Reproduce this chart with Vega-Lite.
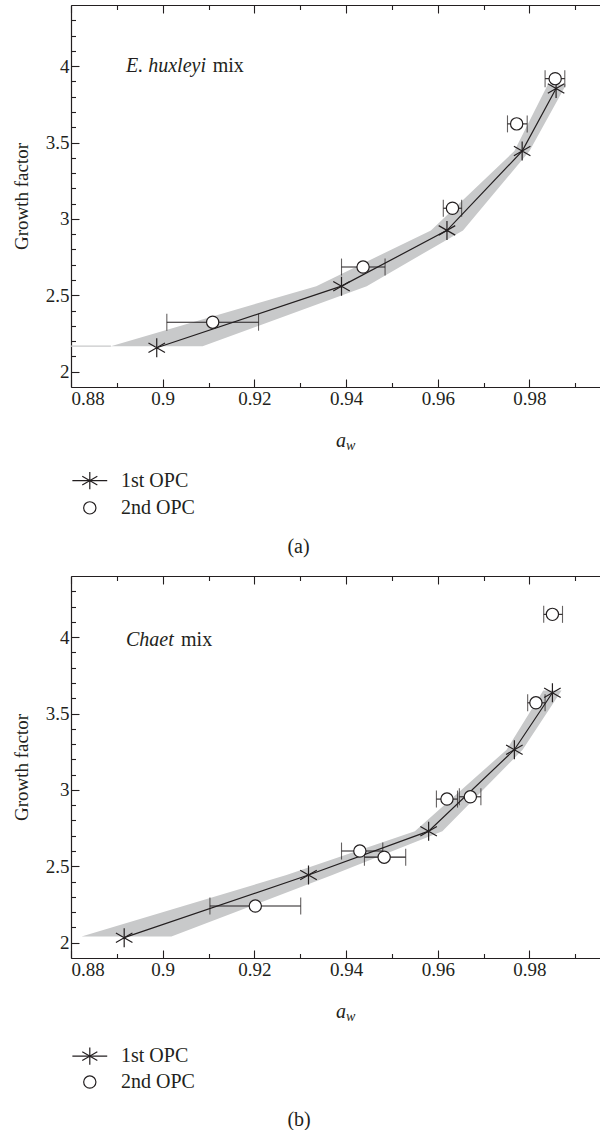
{
  "$schema": "https://vega.github.io/schema/vega-lite/v6.json",
  "padding": {"left": 12, "top": 4, "right": 0, "bottom": 0},
  "spacing": 189,
  "bounds": "flush",
  "background": "white",
  "config": {
    "font": "Liberation Serif",
    "view": {"stroke": "transparent", "strokeWidth": 0},
    "style": {"cell": {"stroke": "transparent", "strokeWidth": 0}},
    "mark": {"font": "Liberation Serif"},
    "axis": {
      "grid": false,
      "domainColor": "#231f20",
      "tickColor": "#231f20",
      "labelColor": "#231f20",
      "titleColor": "#231f20",
      "labelFont": "Liberation Serif",
      "titleFont": "Liberation Serif",
      "labelFontSize": 19,
      "titleFontSize": 19,
      "titleFontWeight": "normal",
      "labelOverlap": false,
      "domainWidth": 1.2,
      "tickWidth": 1.1
    },
    "text": {"font": "Liberation Serif", "fontSize": 20, "color": "#231f20"}
  },
  "datasets": {
    "a1": [
      {"aw": 0.8987, "gf": 2.157},
      {"aw": 0.939, "gf": 2.56},
      {"aw": 0.962, "gf": 2.925},
      {"aw": 0.9784, "gf": 3.444},
      {"aw": 0.9858, "gf": 3.853}
    ],
    "a2": [
      {"aw": 0.9109, "gf": 2.324, "lo": 0.9009, "hi": 0.9209},
      {"aw": 0.9437, "gf": 2.685, "lo": 0.939, "hi": 0.9485},
      {"aw": 0.9632, "gf": 3.07, "lo": 0.9612, "hi": 0.9652},
      {"aw": 0.9772, "gf": 3.622, "lo": 0.9752, "hi": 0.9795},
      {"aw": 0.9856, "gf": 3.918, "lo": 0.9834, "hi": 0.9877}
    ],
    "aband": [
      {"gf": 2.167, "lo": 0.8887, "hi": 0.9087},
      {"gf": 2.56, "lo": 0.9335, "hi": 0.9445},
      {"gf": 2.925, "lo": 0.9585, "hi": 0.9655},
      {"gf": 3.444, "lo": 0.9767, "hi": 0.98},
      {"gf": 3.88, "lo": 0.984, "hi": 0.988}
    ],
    "astub": [{"aw": 0.88, "aw2": 0.8887, "gf": 2.167}],
    "a_it": [{"t": "E. huxleyi", "aw": 0.892, "gf": 4.0}],
    "a_txt": [
      {"t": "mix", "aw": 0.9109, "gf": 4.0},
      {"t": "1st OPC", "aw": 0.8909, "gf": 1.287},
      {"t": "2nd OPC", "aw": 0.8909, "gf": 1.109},
      {"t": "(a)", "aw": 0.9272, "gf": 0.856}
    ],
    "a_legline": [{"aw": 0.8803, "aw2": 0.8879, "gf": 1.287}],
    "a_legstar": [{"aw": 0.8841, "gf": 1.287}],
    "a_legcirc": [{"aw": 0.8841, "gf": 1.109}],
    "axa": [{"aw": 0.94, "gf": 1.51}],
    "axw": [{"aw": 0.94, "gf": 1.49}],
    "b1": [
      {"aw": 0.8916, "gf": 2.033},
      {"aw": 0.9318, "gf": 2.443},
      {"aw": 0.958, "gf": 2.73},
      {"aw": 0.9767, "gf": 3.263},
      {"aw": 0.985, "gf": 3.636}
    ],
    "b2": [
      {"aw": 0.9202, "gf": 2.24, "lo": 0.9103, "hi": 0.9301},
      {"aw": 0.943, "gf": 2.6, "lo": 0.939, "hi": 0.948},
      {"aw": 0.9483, "gf": 2.56, "lo": 0.944, "hi": 0.953},
      {"aw": 0.962, "gf": 2.94, "lo": 0.9597, "hi": 0.9643},
      {"aw": 0.9671, "gf": 2.955, "lo": 0.9647, "hi": 0.9694},
      {"aw": 0.9814, "gf": 3.57, "lo": 0.9796, "hi": 0.9834},
      {"aw": 0.985, "gf": 4.149, "lo": 0.9831, "hi": 0.9872}
    ],
    "bband": [
      {"gf": 2.04, "lo": 0.8823, "hi": 0.9019},
      {"gf": 2.443, "lo": 0.927, "hi": 0.937},
      {"gf": 2.73, "lo": 0.955, "hi": 0.961},
      {"gf": 3.263, "lo": 0.975, "hi": 0.9785},
      {"gf": 3.65, "lo": 0.983, "hi": 0.987}
    ],
    "b_it": [{"t": "Chaet", "aw": 0.892, "gf": 3.98}],
    "b_txt": [
      {"t": "mix", "aw": 0.904, "gf": 3.98},
      {"t": "1st OPC", "aw": 0.8909, "gf": 1.258},
      {"t": "2nd OPC", "aw": 0.8909, "gf": 1.088},
      {"t": "(b)", "aw": 0.9272, "gf": 0.84}
    ],
    "b_legline": [{"aw": 0.8803, "aw2": 0.8879, "gf": 1.258}],
    "b_legstar": [{"aw": 0.8841, "gf": 1.258}],
    "b_legcirc": [{"aw": 0.8841, "gf": 1.088}]
  },
  "vconcat": [
    {
      "width": 549,
      "height": 382,
      "resolve": {"axis": {"x": "independent", "y": "independent"}},
      "layer": [
        {
          "data": {"name": "aband"},
          "mark": {"type": "area", "orient": "horizontal", "color": "#c8c9ca"},
          "encoding": {
            "y": {"field": "gf", "type": "quantitative", "scale": {"domain": [1.9, 4.4], "nice": false, "zero": false},
              "axis": {"orient": "left", "values": [2, 2.1, 2.2, 2.3, 2.4, 2.5, 2.6, 2.7, 2.8, 2.9, 3, 3.1, 3.2, 3.3, 3.4, 3.5, 3.6, 3.7, 3.8, 3.9, 4, 4.1, 4.2, 4.3], "format": "~g",
                "labelExpr": "round(datum.value*10) % 5 == 0 ? datum.label : ''",
                "tickSize": {"condition": {"test": "round(datum.value*10) % 5 == 0", "value": -8}, "value": -4.5},
                "labelPadding": 10, "title": "Growth factor", "titlePadding": 14}},
            "x": {"field": "lo", "type": "quantitative", "scale": {"domain": [0.88, 0.99974], "nice": false, "zero": false},
              "axis": {"orient": "bottom", "values": [0.88, 0.89, 0.9, 0.91, 0.92, 0.93, 0.94, 0.95, 0.96, 0.97, 0.98, 0.99], "format": "~g",
                "labelExpr": "round(datum.value*100) % 2 == 0 ? datum.label : ''",
                "tickSize": {"condition": {"test": "round(datum.value*100) % 2 == 0", "value": -8}, "value": -4.5},
                "labelPadding": 10, "title": null}},
            "x2": {"field": "hi"}
          }
        },
        {
          "data": {"name": "astub"},
          "mark": {"type": "rule", "color": "#c8c9ca", "strokeWidth": 1.2},
          "encoding": {
            "x": {"field": "aw", "type": "quantitative", "axis": null},
            "x2": {"field": "aw2"},
            "y": {"field": "gf", "type": "quantitative", "axis": null}
          }
        },
        {
          "data": {"name": "a1"},
          "mark": {"type": "line", "color": "#231f20", "strokeWidth": 1.2},
          "encoding": {
            "x": {"field": "aw", "type": "quantitative",
              "axis": {"orient": "top", "values": [0.88, 0.89, 0.9, 0.91, 0.92, 0.93, 0.94, 0.95, 0.96, 0.97, 0.98, 0.99], "labels": false,
                "tickSize": {"condition": {"test": "round(datum.value*100) % 2 == 0", "value": -8}, "value": -4.5}, "title": null}},
            "y": {"field": "gf", "type": "quantitative", "axis": null}
          }
        },
        {
          "data": {"name": "a1"},
          "mark": {"type": "point", "shape": "M0,-1L0,1M-0.87,-0.5L0.87,0.5M-0.87,0.5L0.87,-0.5", "filled": false, "size": 361, "stroke": "#231f20", "strokeWidth": 1.2, "opacity": 1},
          "encoding": {
            "x": {"field": "aw", "type": "quantitative", "axis": null},
            "y": {"field": "gf", "type": "quantitative", "axis": null}
          }
        },
        {
          "data": {"name": "a2"},
          "mark": {"type": "rule", "color": "#231f20", "strokeWidth": 1.1},
          "encoding": {
            "x": {"field": "lo", "type": "quantitative", "axis": null},
            "x2": {"field": "hi"},
            "y": {"field": "gf", "type": "quantitative", "axis": null}
          }
        },
        {
          "data": {"name": "a2"},
          "mark": {"type": "tick", "orient": "vertical", "color": "#231f20", "size": 17, "thickness": 1.1},
          "encoding": {
            "x": {"field": "lo", "type": "quantitative", "axis": null},
            "y": {"field": "gf", "type": "quantitative", "axis": null}
          }
        },
        {
          "data": {"name": "a2"},
          "mark": {"type": "tick", "orient": "vertical", "color": "#231f20", "size": 17, "thickness": 1.1},
          "encoding": {
            "x": {"field": "hi", "type": "quantitative", "axis": null},
            "y": {"field": "gf", "type": "quantitative", "axis": null}
          }
        },
        {
          "data": {"name": "a2"},
          "mark": {"type": "point", "shape": "circle", "filled": true, "fill": "white", "stroke": "#231f20", "strokeWidth": 1.2, "size": 150, "opacity": 1},
          "encoding": {
            "x": {"field": "aw", "type": "quantitative", "axis": null},
            "y": {"field": "gf", "type": "quantitative", "axis": null}
          }
        },
        {
          "data": {"name": "a_it"},
          "mark": {"type": "text", "fontStyle": "italic", "align": "left", "baseline": "middle", "fontSize": 20},
          "encoding": {"x": {"field": "aw", "type": "quantitative", "axis": null}, "y": {"field": "gf", "type": "quantitative", "axis": null}, "text": {"field": "t"}}
        },
        {
          "data": {"name": "a_txt"},
          "mark": {"type": "text", "align": "left", "baseline": "middle", "fontSize": 20},
          "encoding": {"x": {"field": "aw", "type": "quantitative", "axis": null}, "y": {"field": "gf", "type": "quantitative", "axis": null}, "text": {"field": "t"}}
        },
        {
          "data": {"name": "axa"},
          "mark": {"type": "text", "text": "a", "fontStyle": "italic", "align": "right", "baseline": "alphabetic", "fontSize": 20},
          "encoding": {"x": {"field": "aw", "type": "quantitative", "axis": null}, "y": {"field": "gf", "type": "quantitative", "axis": null}}
        },
        {
          "data": {"name": "axw"},
          "mark": {"type": "text", "text": "w", "fontStyle": "italic", "align": "left", "baseline": "alphabetic", "fontSize": 14},
          "encoding": {"x": {"field": "aw", "type": "quantitative", "axis": null}, "y": {"field": "gf", "type": "quantitative", "axis": null}}
        },
        {
          "data": {"name": "a_legline"},
          "mark": {"type": "rule", "color": "#231f20", "strokeWidth": 1.2},
          "encoding": {"x": {"field": "aw", "type": "quantitative", "axis": null}, "x2": {"field": "aw2"}, "y": {"field": "gf", "type": "quantitative", "axis": null}}
        },
        {
          "data": {"name": "a_legstar"},
          "mark": {"type": "point", "shape": "M0,-1L0,1M-0.87,-0.5L0.87,0.5M-0.87,0.5L0.87,-0.5", "filled": false, "size": 300, "stroke": "#231f20", "strokeWidth": 1.2, "opacity": 1},
          "encoding": {"x": {"field": "aw", "type": "quantitative", "axis": null}, "y": {"field": "gf", "type": "quantitative", "axis": null}}
        },
        {
          "data": {"name": "a_legcirc"},
          "mark": {"type": "point", "shape": "circle", "filled": true, "fill": "white", "stroke": "#231f20", "strokeWidth": 1.2, "size": 150, "opacity": 1},
          "encoding": {"x": {"field": "aw", "type": "quantitative", "axis": null}, "y": {"field": "gf", "type": "quantitative", "axis": null}}
        }
      ]
    },
    {
      "width": 549,
      "height": 382,
      "resolve": {"axis": {"x": "independent", "y": "independent"}},
      "layer": [
        {
          "data": {"name": "bband"},
          "mark": {"type": "area", "orient": "horizontal", "color": "#c8c9ca"},
          "encoding": {
            "y": {"field": "gf", "type": "quantitative", "scale": {"domain": [1.9, 4.4], "nice": false, "zero": false},
              "axis": {"orient": "left", "values": [2, 2.1, 2.2, 2.3, 2.4, 2.5, 2.6, 2.7, 2.8, 2.9, 3, 3.1, 3.2, 3.3, 3.4, 3.5, 3.6, 3.7, 3.8, 3.9, 4, 4.1, 4.2, 4.3], "format": "~g",
                "labelExpr": "round(datum.value*10) % 5 == 0 ? datum.label : ''",
                "tickSize": {"condition": {"test": "round(datum.value*10) % 5 == 0", "value": -8}, "value": -4.5},
                "labelPadding": 10, "title": "Growth factor", "titlePadding": 14}},
            "x": {"field": "lo", "type": "quantitative", "scale": {"domain": [0.88, 0.99974], "nice": false, "zero": false},
              "axis": {"orient": "bottom", "values": [0.88, 0.89, 0.9, 0.91, 0.92, 0.93, 0.94, 0.95, 0.96, 0.97, 0.98, 0.99], "format": "~g",
                "labelExpr": "round(datum.value*100) % 2 == 0 ? datum.label : ''",
                "tickSize": {"condition": {"test": "round(datum.value*100) % 2 == 0", "value": -8}, "value": -4.5},
                "labelPadding": 10, "title": null}},
            "x2": {"field": "hi"}
          }
        },
        {
          "data": {"name": "b1"},
          "mark": {"type": "line", "color": "#231f20", "strokeWidth": 1.2},
          "encoding": {
            "x": {"field": "aw", "type": "quantitative",
              "axis": {"orient": "top", "values": [0.88, 0.89, 0.9, 0.91, 0.92, 0.93, 0.94, 0.95, 0.96, 0.97, 0.98, 0.99], "labels": false,
                "tickSize": {"condition": {"test": "round(datum.value*100) % 2 == 0", "value": -8}, "value": -4.5}, "title": null}},
            "y": {"field": "gf", "type": "quantitative", "axis": null}
          }
        },
        {
          "data": {"name": "b1"},
          "mark": {"type": "point", "shape": "M0,-1L0,1M-0.87,-0.5L0.87,0.5M-0.87,0.5L0.87,-0.5", "filled": false, "size": 361, "stroke": "#231f20", "strokeWidth": 1.2, "opacity": 1},
          "encoding": {
            "x": {"field": "aw", "type": "quantitative", "axis": null},
            "y": {"field": "gf", "type": "quantitative", "axis": null}
          }
        },
        {
          "data": {"name": "b2"},
          "mark": {"type": "rule", "color": "#231f20", "strokeWidth": 1.1},
          "encoding": {
            "x": {"field": "lo", "type": "quantitative", "axis": null},
            "x2": {"field": "hi"},
            "y": {"field": "gf", "type": "quantitative", "axis": null}
          }
        },
        {
          "data": {"name": "b2"},
          "mark": {"type": "tick", "orient": "vertical", "color": "#231f20", "size": 17, "thickness": 1.1},
          "encoding": {
            "x": {"field": "lo", "type": "quantitative", "axis": null},
            "y": {"field": "gf", "type": "quantitative", "axis": null}
          }
        },
        {
          "data": {"name": "b2"},
          "mark": {"type": "tick", "orient": "vertical", "color": "#231f20", "size": 17, "thickness": 1.1},
          "encoding": {
            "x": {"field": "hi", "type": "quantitative", "axis": null},
            "y": {"field": "gf", "type": "quantitative", "axis": null}
          }
        },
        {
          "data": {"name": "b2"},
          "mark": {"type": "point", "shape": "circle", "filled": true, "fill": "white", "stroke": "#231f20", "strokeWidth": 1.2, "size": 150, "opacity": 1},
          "encoding": {
            "x": {"field": "aw", "type": "quantitative", "axis": null},
            "y": {"field": "gf", "type": "quantitative", "axis": null}
          }
        },
        {
          "data": {"name": "b_it"},
          "mark": {"type": "text", "fontStyle": "italic", "align": "left", "baseline": "middle", "fontSize": 20},
          "encoding": {"x": {"field": "aw", "type": "quantitative", "axis": null}, "y": {"field": "gf", "type": "quantitative", "axis": null}, "text": {"field": "t"}}
        },
        {
          "data": {"name": "b_txt"},
          "mark": {"type": "text", "align": "left", "baseline": "middle", "fontSize": 20},
          "encoding": {"x": {"field": "aw", "type": "quantitative", "axis": null}, "y": {"field": "gf", "type": "quantitative", "axis": null}, "text": {"field": "t"}}
        },
        {
          "data": {"name": "axa"},
          "mark": {"type": "text", "text": "a", "fontStyle": "italic", "align": "right", "baseline": "alphabetic", "fontSize": 20},
          "encoding": {"x": {"field": "aw", "type": "quantitative", "axis": null}, "y": {"field": "gf", "type": "quantitative", "axis": null}}
        },
        {
          "data": {"name": "axw"},
          "mark": {"type": "text", "text": "w", "fontStyle": "italic", "align": "left", "baseline": "alphabetic", "fontSize": 14},
          "encoding": {"x": {"field": "aw", "type": "quantitative", "axis": null}, "y": {"field": "gf", "type": "quantitative", "axis": null}}
        },
        {
          "data": {"name": "b_legline"},
          "mark": {"type": "rule", "color": "#231f20", "strokeWidth": 1.2},
          "encoding": {"x": {"field": "aw", "type": "quantitative", "axis": null}, "x2": {"field": "aw2"}, "y": {"field": "gf", "type": "quantitative", "axis": null}}
        },
        {
          "data": {"name": "b_legstar"},
          "mark": {"type": "point", "shape": "M0,-1L0,1M-0.87,-0.5L0.87,0.5M-0.87,0.5L0.87,-0.5", "filled": false, "size": 300, "stroke": "#231f20", "strokeWidth": 1.2, "opacity": 1},
          "encoding": {"x": {"field": "aw", "type": "quantitative", "axis": null}, "y": {"field": "gf", "type": "quantitative", "axis": null}}
        },
        {
          "data": {"name": "b_legcirc"},
          "mark": {"type": "point", "shape": "circle", "filled": true, "fill": "white", "stroke": "#231f20", "strokeWidth": 1.2, "size": 150, "opacity": 1},
          "encoding": {"x": {"field": "aw", "type": "quantitative", "axis": null}, "y": {"field": "gf", "type": "quantitative", "axis": null}}
        }
      ]
    }
  ]
}
